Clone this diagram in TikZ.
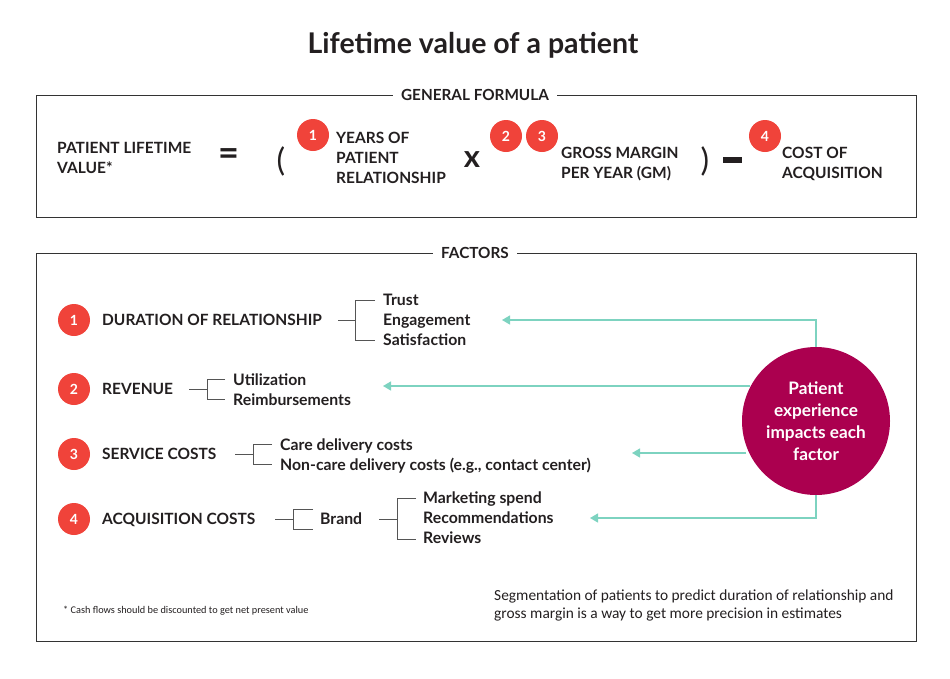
\documentclass[tikz,border=0pt]{standalone}
\usepackage{fontspec}
\setmainfont{Lato}
\newfontfamily\condfont{Carlito}
\usetikzlibrary{arrows.meta}
\definecolor{txt}{HTML}{231F20}
\definecolor{numred}{HTML}{F0433A}
\definecolor{pxred}{HTML}{AB004F}
\definecolor{teal}{HTML}{7DD3C0}
\definecolor{frame}{HTML}{333333}
\definecolor{brk}{HTML}{555555}
\tikzset{
  num/.style={circle, fill=numred, minimum size=32pt, inner sep=0pt, text=white, font=\bfseries\fontsize{14}{14}\selectfont},
  hd/.style={anchor=west, inner sep=0pt, text=txt, align=left, font=\bfseries\fontsize{15.5}{20}\selectfont},
  hdb/.style={anchor=base west, inner sep=0pt, text=txt, font=\bfseries\fontsize{15.5}{20}\selectfont},
  sub/.style={anchor=base west, inner sep=0pt, text=txt, font=\bfseries\fontsize{15.8}{20}\selectfont},
  boxlabel/.style={fill=white, inner xsep=8pt, inner ysep=2pt, text=txt, font=\bfseries\fontsize{15.3}{15}\selectfont},
  frm/.style={draw=frame, line width=1pt},
  bk/.style={draw=brk, line width=0.9pt},
  imp/.style={draw=teal, line width=1.3pt, -{Triangle[width=9pt,length=8pt]}},
  sym/.style={inner sep=0pt, text=txt}
}
\begin{document}
\begin{tikzpicture}[x=1pt,y=-1pt]
\useasboundingbox (0,0) rectangle (950,678);
% title
\node[sym, font=\bfseries\fontsize{28.5}{28}\selectfont] (title) at (473,45) {Lifetime value of a patient};
% formula box
\draw[frm] (36,95) rectangle (916,217);
\node[boxlabel] (gf) at (475,95) {GENERAL FORMULA};
\node[hd] (plv) at (57,158) {PATIENT LIFETIME\\VALUE*};
\node[sym, font=\bfseries\fontsize{36}{36}\selectfont] (eq) at (229,157) {=};
\node[sym, font=\fontsize{32}{32}\selectfont] (lp) at (281,161) {(};
\node[num] (f1) at (313,135) {1};
\node[hd] (yrs) at (336,158) {YEARS OF\\PATIENT\\RELATIONSHIP};
\node[sym, font=\bfseries\fontsize{31}{31}\selectfont] (times) at (472,160) {x};
\node[num] (f2) at (506,136) {2};
\node[num] (f3) at (542,136) {3};
\node[hd] (gm) at (561,164) {GROSS MARGIN\\PER YEAR (GM)};
\node[sym, font=\fontsize{32}{32}\selectfont] (rp) at (705,161) {)};
\fill[txt] (723,157) rectangle (742,163);
\node[num] (f4) at (765,136) {4};
\node[hd] (coa) at (782,164) {COST OF\\ACQUISITION};
% factors box
\draw[frm] (36,253) rectangle (916,641);
\node[boxlabel] (fac) at (475,253) {FACTORS};
% row 1
\node[num] (n1) at (74,320) {1};
\node[hdb] (r1) at (102,325.6) {DURATION OF RELATIONSHIP};
\node[sub] (t1) at (383,305.6) {Trust};
\node[sub] (t2) at (383,325.6) {Engagement};
\node[sub] (t3) at (383,345.6) {Satisfaction};
\draw[bk] (338,320) -- (355,320);
\draw[bk] (375,300) -- (355,300) -- (355,340) -- (375,340);
% row 2
\node[num] (n2) at (74,389) {2};
\node[hdb] (r2) at (102,394.6) {REVENUE};
\node[sub] (u1) at (233,385.6) {Utilization};
\node[sub] (u2) at (233,405.6) {Reimbursements};
\draw[bk] (189,389) -- (207,389);
\draw[bk] (225,379) -- (207,379) -- (207,399) -- (225,399);
% row 3
\node[num] (n3) at (74,454) {3};
\node[hdb] (r3) at (102,459.6) {SERVICE COSTS};
\node[sub] (s1) at (280,450.6) {Care delivery costs};
\node[sub] (s2) at (280,470.6) {Non-care delivery costs (e.g., contact center)};
\draw[bk] (235,454) -- (253,454);
\draw[bk] (272,444) -- (253,444) -- (253,464) -- (272,464);
% row 4
\node[num] (n4) at (74,519) {4};
\node[hdb] (r4) at (102,524.6) {ACQUISITION COSTS};
\node[sub] (brand) at (320,524.6) {Brand};
\draw[bk] (275,519) -- (293,519);
\draw[bk] (313,509) -- (293,509) -- (293,529) -- (313,529);
\node[sub] (m1) at (423,503.6) {Marketing spend};
\node[sub] (m2) at (423,523.6) {Recommendations};
\node[sub] (m3) at (423,543.6) {Reviews};
\draw[bk] (379,519) -- (397,519);
\draw[bk] (416,498) -- (397,498) -- (397,539) -- (416,539);
% patient experience
\node[circle, fill=pxred, minimum size=148pt, inner sep=0pt, text=white, align=center, font=\bfseries\fontsize{17.2}{22}\selectfont] (px) at (816,421) {Patient\\experience\\impacts each\\factor};
\coordinate (a1) at (502,320);
\coordinate (a2) at (383,386);
\coordinate (a3) at (632,453);
\coordinate (a4) at (590,518);
\draw[imp] (px.north) |- (a1);
\draw[imp] (px.west |- a2) ++(8,0) -- (a2);
\draw[imp] (px.west |- a3) ++(4,0) -- (a3);
\draw[imp] (px.south) |- (a4);
% notes
\node[anchor=west, inner sep=0pt, text=txt, font=\condfont\fontsize{10.3}{12}\selectfont] (fn) at (63,611) {* Cash flows should be discounted to get net present value};
\node[anchor=west, inner sep=0pt, text=txt, align=left, font=\condfont\fontsize{15.4}{18}\selectfont] (seg) at (494,605) {Segmentation of patients to predict duration of relationship and\\gross margin is a way to get more precision in estimates};
\end{tikzpicture}
\end{document}
